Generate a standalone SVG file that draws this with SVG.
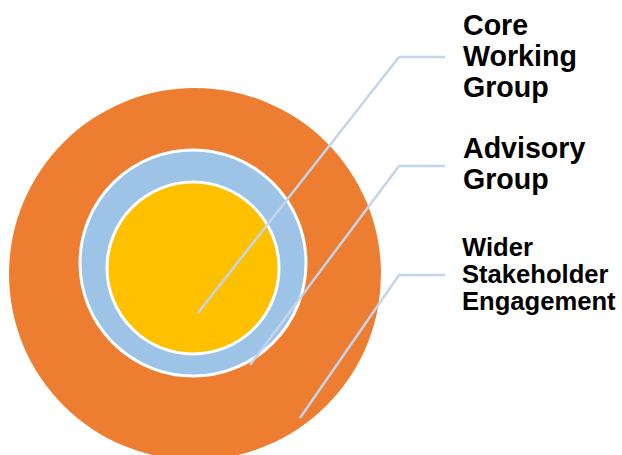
<svg xmlns="http://www.w3.org/2000/svg" width="622" height="455" viewBox="0 0 622 455">
<style>
.lbl{font-family:"Liberation Sans",Arial,sans-serif;font-weight:bold;fill:#000}
.ring{stroke:#fff;stroke-width:3}
.lead{fill:none;stroke:#c3d5ec;stroke-width:2.5}
</style>
<rect width="622" height="455" fill="#fff"/>
<g id="wider"><circle cx="195" cy="274" r="186" fill="#ED7D31"/></g>
<g id="advisory"><circle class="ring" cx="193" cy="263" r="113" fill="#9DC3E6"/></g>
<g id="core"><circle class="ring" cx="193" cy="268" r="86" fill="#FFC000"/></g>
<g id="connectors">
<polyline class="lead" points="198,313 399,57 445,57"/>
<polyline class="lead" points="250,365 399,166 445,166"/>
<polyline class="lead" points="300,418 399,275 445,275"/>
</g>
<g id="label-core"><text class="lbl" font-size="28.6" x="463"><tspan x="463" y="35">Core</tspan><tspan x="463" y="66">Working</tspan><tspan x="463" y="97">Group</tspan></text></g>
<g id="label-advisory"><text class="lbl" font-size="28.6" x="463"><tspan x="463" y="158">Advisory</tspan><tspan x="463" y="189">Group</tspan></text></g>
<g id="label-wider"><text class="lbl" font-size="25.6" x="462"><tspan x="462" y="256">Wider</tspan><tspan x="462" y="283">Stakeholder</tspan><tspan x="462" y="310">Engagement</tspan></text></g>
</svg>
